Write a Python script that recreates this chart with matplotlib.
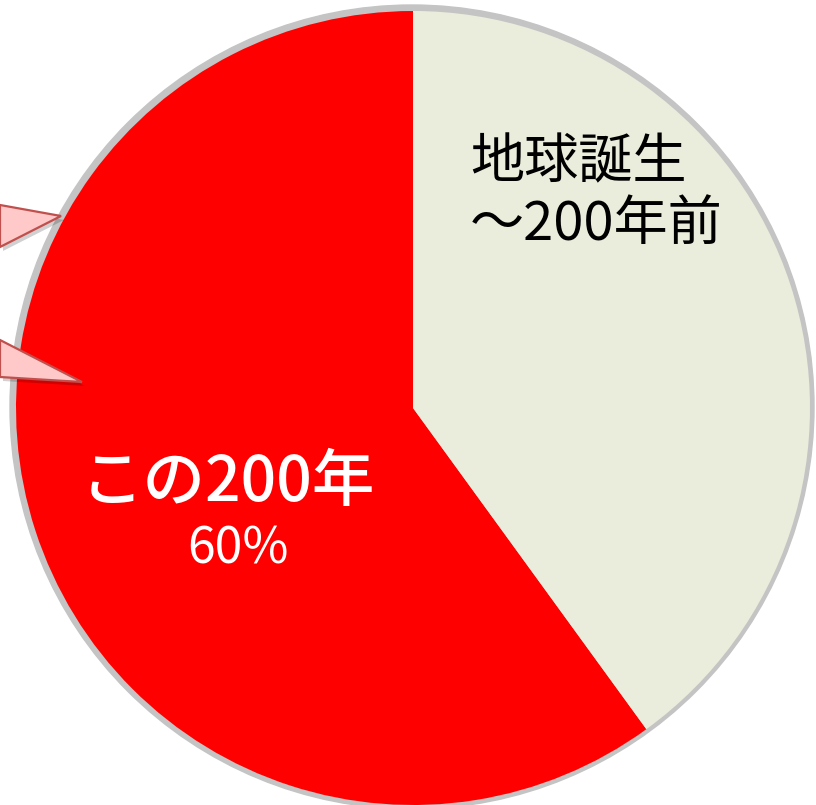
"""Pie chart: share of the last 200 years."""

import matplotlib
matplotlib.use("Agg")
import matplotlib.pyplot as plt
from matplotlib.patches import Circle, Polygon

plt.rcParams["font.family"] = ["Noto Sans CJK JP", "DejaVu Sans"]

labels = ["この200年", "地球誕生\n〜200年前"]
shares = [60, 40]
colors = ["#FF0000", "#EAEDDC"]
pct_label = "60%"

W, H = 816, 805
CX, CY, R = 413, H - 408, 397

# callout tails cut off at the left edge (image coords: x, y from top)
TAILS = [
    [(0, 205), (61, 216), (0, 247)],
    [(0, 340), (82, 382), (0, 377)],
]


def main() -> None:
    fig = plt.figure(figsize=(W / 100, H / 100), dpi=100)
    ax = fig.add_axes([0, 0, 1, 1])

    ax.add_patch(Circle((CX - 1, CY + 1), R + 5, color="#C4C4C4", zorder=0))
    ax.pie(shares, colors=colors, startangle=90, counterclock=True, center=(CX, CY), radius=R,
           wedgeprops={"linewidth": 0}, frame=True)
    ax.set_xlim(0, W); ax.set_ylim(0, H); ax.set_aspect("equal"); ax.axis("off")

    for tail in TAILS:
        pts = [(x, H - y) for x, y in tail]
        shadow = [(x + 3, y - 4) for x, y in pts]
        ax.add_patch(Polygon(shadow, closed=True, facecolor="#000000", alpha=0.18, edgecolor="none", zorder=3))
        ax.add_patch(Polygon(pts, closed=True, facecolor="#FFC9C9", edgecolor="#C0504D", linewidth=1.6, zorder=4))

    ax.text(470, H - 194, labels[1], fontsize=39, color="black", ha="left", va="center",
            linespacing=1.15, zorder=5)
    ax.text(228, H - 484, labels[0], fontsize=45, fontweight="medium", color="white", ha="center", va="center", zorder=5)
    ax.text(238, H - 549, pct_label, fontsize=36, color="white", ha="center", va="center", zorder=5)

    fig.savefig("out.png", dpi=100)
    plt.close(fig)


if __name__ == "__main__":
    main()
